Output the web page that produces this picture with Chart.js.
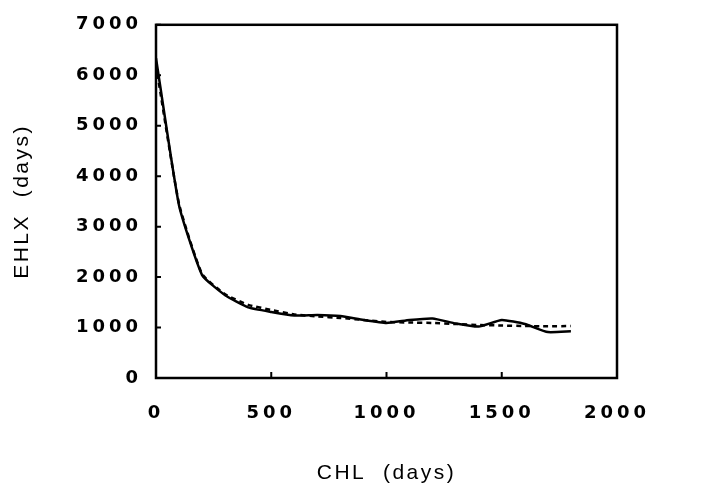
<!DOCTYPE html>
<html lang="en">
<head>
    <meta charset="utf-8" />
    <title>EHLX vs CHL</title>
    <style>
        html, body {
            margin: 0;
            padding: 0;
            background: #ffffff;
        }
        #wrap {
            width: 702px;
            height: 491px;
        }
    </style>
</head>
<body>
    <div id="wrap">
        <canvas id="myChart" width="702" height="491"></canvas>
    </div>

    <script src="https://cdn.jsdelivr.net/npm/chart.js@4/dist/chart.umd.min.js"></script>
    <script>
        // CHL (days)
        var chlDays = [0, 100, 200, 300, 400, 500, 600, 700, 800, 900, 1000, 1100, 1200, 1300, 1400, 1500, 1600, 1700, 1800];
        // EHLX (days), solid line
        var ehlxSolid = [6340, 3420, 2040, 1640, 1400, 1310, 1240, 1250, 1230, 1150, 1090, 1150, 1180, 1080, 1020, 1150, 1070, 910, 925];
        // EHLX (days), dashed line
        var ehlxDashed = [6200, 3450, 2060, 1660, 1450, 1350, 1260, 1220, 1190, 1150, 1110, 1100, 1090, 1070, 1050, 1040, 1030, 1025, 1030];

        var xTicks = [0, 500, 1000, 1500, 2000];
        var yTicks = [0, 1000, 2000, 3000, 4000, 5000, 6000, 7000];

        var toPoints = function (xs, ys) {
            return xs.map(function (x, i) { return { x: x, y: ys[i] }; });
        };

        // wide spacing for the tick numbers only
        var spaceLabels = function (scale) {
            if (scale._spaced) return;
            var orig = scale.drawLabels;
            scale.drawLabels = function (area) {
                var c = this.ctx;
                c.save();
                c.letterSpacing = '4px';
                orig.call(this, area);
                c.restore();
            };
            scale._spaced = true;
        };

        // frame round the plot area, with short inward tick marks
        var frame = {
            id: 'frame',
            beforeDraw: function (chart) {
                chart.ctx.letterSpacing = '2.5px';
            },
            afterDraw: function (chart) {
                var ctx = chart.ctx;
                var a = chart.chartArea;
                var xs = chart.scales.x;
                var ys = chart.scales.y;
                ctx.save();
                ctx.strokeStyle = '#000';
                ctx.lineWidth = 2.5;
                ctx.strokeRect(a.left, a.top, a.right - a.left, a.bottom - a.top);
                ctx.lineWidth = 2;
                ctx.beginPath();
                xTicks.forEach(function (v) {
                    var px = xs.getPixelForValue(v);
                    ctx.moveTo(px, a.bottom);
                    ctx.lineTo(px, a.bottom - 6);
                });
                yTicks.forEach(function (v) {
                    var py = ys.getPixelForValue(v);
                    ctx.moveTo(a.left, py);
                    ctx.lineTo(a.left + 5, py);
                });
                ctx.stroke();
                ctx.restore();
            }
        };

        var tickFont = { family: 'DejaVu Sans', size: 18, weight: 'bold' };
        var titleFont = { family: 'Liberation Sans', size: 21 };

        var ctx = document.getElementById('myChart');
        var myChart = new Chart(ctx, {
            type: 'line',
            data: {
                datasets: [{
                    label: 'solid',
                    data: toPoints(chlDays, ehlxSolid),
                    borderColor: '#000',
                    borderWidth: 2.5,
                    pointRadius: 0,
                    tension: 0.15,
                    fill: false
                }, {
                    label: 'dashed',
                    data: toPoints(chlDays, ehlxDashed),
                    borderColor: '#000',
                    borderWidth: 2.5,
                    borderDash: [5, 4],
                    pointRadius: 0,
                    tension: 0.15,
                    fill: false
                }]
            },
            options: {
                responsive: false,
                animation: false,
                layout: {
                    padding: { top: 14, right: 85, left: 0, bottom: 0 }
                },
                plugins: {
                    legend: { display: false },
                    tooltip: { enabled: false }
                },
                scales: {
                    x: {
                        type: 'linear',
                        min: 0,
                        max: 2000,
                        afterFit: function (scale) { scale.height = 113; spaceLabels(scale); },
                        afterBuildTicks: function (scale) {
                            scale.ticks = xTicks.map(function (v) { return { value: v }; });
                        },
                        grid: { display: false, drawTicks: false },
                        border: { display: false },
                        ticks: {
                            padding: 25,
                            color: '#000',
                            maxRotation: 0,
                            font: tickFont,
                            callback: function (v) { return String(v); }
                        },
                        title: {
                            display: true,
                            text: 'CHL  (days)',
                            color: '#000',
                            padding: { top: 0, bottom: 5 },
                            font: titleFont
                        }
                    },
                    y: {
                        min: 0,
                        max: 7000,
                        afterFit: function (scale) { scale.width = 156; spaceLabels(scale); },
                        afterBuildTicks: function (scale) {
                            scale.ticks = yTicks.map(function (v) { return { value: v }; });
                        },
                        grid: { display: false, drawTicks: false },
                        border: { display: false },
                        ticks: {
                            padding: 14,
                            color: '#000',
                            font: tickFont,
                            callback: function (v) { return String(v); }
                        },
                        title: {
                            display: true,
                            text: 'EHLX  (days)',
                            color: '#000',
                            padding: { top: 10, bottom: 0 },
                            font: titleFont
                        }
                    }
                }
            },
            plugins: [frame]
        });
    </script>
</body>
</html>
